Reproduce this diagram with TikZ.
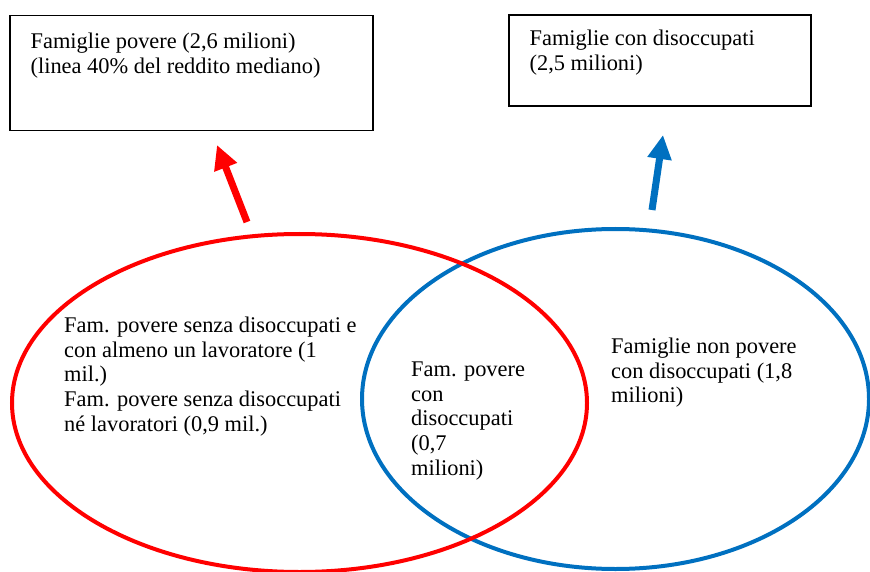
\documentclass[tikz,border=0pt]{standalone}
\usepackage{fontspec}
\setmainfont{Liberation Serif}
\usetikzlibrary{shapes.geometric, arrows.meta, positioning}
\definecolor{vennred}{RGB}{255,0,0}
\definecolor{vennblue}{RGB}{0,112,192}

\begin{document}
\begin{tikzpicture}[x=1pt, y=-1pt,
        box/.style={rectangle, draw, line width=1.2pt, inner sep=0pt},
        set/.style={ellipse, draw, line width=4pt, inner sep=0pt},
        txt/.style={anchor=north west, align=left, inner sep=0pt, font=\fontsize{22.4}{24.8}\selectfont},
        bigarrow/.style={-{Triangle[length=24pt, width=23pt]}, line width=7pt}]

    \useasboundingbox (0,0) rectangle (870,572);

    % Totals
    \node[box, minimum width=363pt, minimum height=115pt] (boxpoveri) at (191.5,73.2) {};
    \node[txt, below right=17.5pt and 21pt of boxpoveri.north west] (tpoveri) {Famiglie povere (2,6 milioni)\\(linea 40\% del reddito mediano)};

    \node[box, minimum width=302pt, minimum height=91pt] (boxdisocc) at (660,60.5) {};
    \node[txt, below right=15.5pt and 21pt of boxdisocc.north west] (tdisocc) {Famiglie con disoccupati\\(2,5 milioni)};

    % Sets
    \node[set, vennblue, minimum width=507pt, minimum height=340pt] (disocc) at (615.5,399) {};
    \node[set, vennred, minimum width=575pt, minimum height=338pt] (poveri) at (299.5,403) {};

    % Set contents
    \node[txt] (solopoveri) at (64,316.5) {Fam. povere senza disoccupati e\\con almeno un lavoratore (1\\mil.)\\Fam. povere senza disoccupati\\né lavoratori (0,9 mil.)};
    \node[txt] (entrambi) at (411,361.5) {Fam. povere\\con\\disoccupati\\(0,7\\milioni)};
    \node[txt] (solodisocc) at (611,337.5) {Famiglie non povere\\con disoccupati (1,8\\milioni)};

    % Arrows
    \coordinate (rossobase) at (247,222);
    \coordinate (rossopunta) at (217,145);
    \coordinate (blubase) at (652,210);
    \coordinate (blupunta) at (663,135);
    \draw[bigarrow, vennred] (rossobase) -- (rossopunta);
    \draw[bigarrow, vennblue] (blubase) -- (blupunta);

\end{tikzpicture}
\end{document}
